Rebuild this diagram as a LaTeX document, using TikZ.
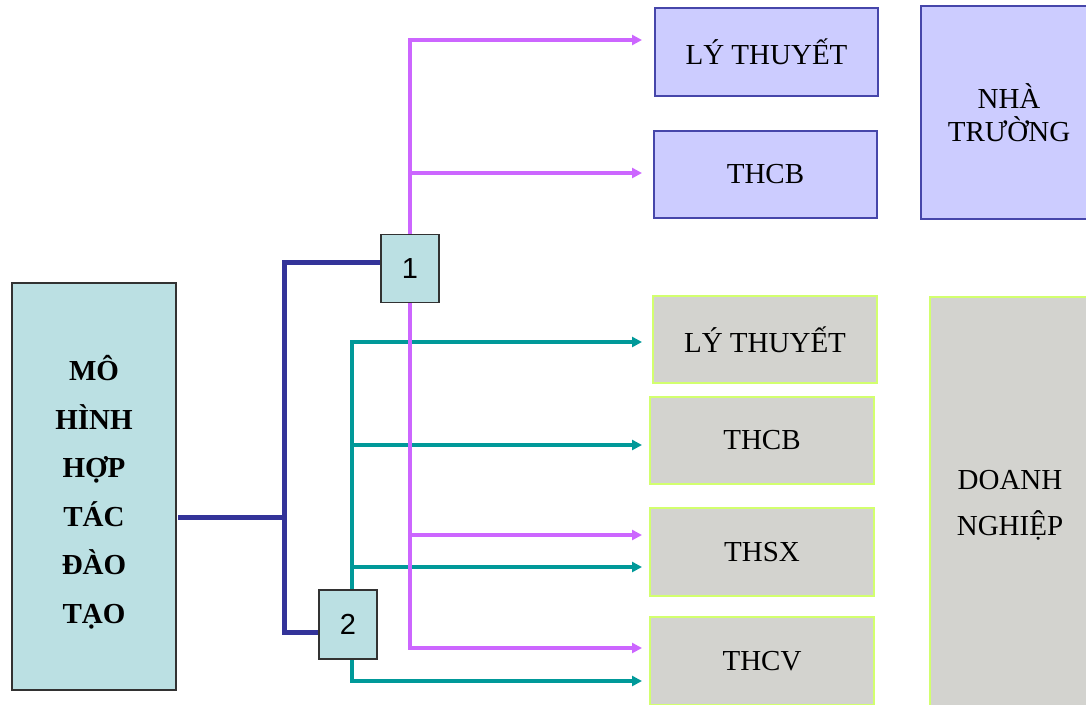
\documentclass[tikz,border=0pt]{standalone}
\usepackage{fontspec}
\setmainfont{Liberation Serif}
\newfontfamily\numfont{Liberation Sans}
\usetikzlibrary{arrows.meta,backgrounds}
\definecolor{cyanfill}{RGB}{187,224,227}
\definecolor{darkedge}{RGB}{50,50,50}
\definecolor{navyline}{RGB}{51,51,153}
\definecolor{violetline}{RGB}{204,102,255}
\definecolor{tealline}{RGB}{0,153,153}
\definecolor{lavfill}{RGB}{204,204,255}
\definecolor{lavedge}{RGB}{70,70,170}
\definecolor{greyfill}{RGB}{211,211,207}
\definecolor{limeedge}{RGB}{210,255,110}
\begin{document}
\begin{tikzpicture}[x=1pt,y=-1pt,
  every node/.style={inner sep=0pt,outer sep=0pt},
  boxtext/.style={font=\fontsize{29}{33}\selectfont,align=center},
  mainbox/.style={rectangle,draw=darkedge,line width=1.4pt,fill=cyanfill},
  schoolbox/.style={rectangle,draw=lavedge,line width=1.2pt,fill=lavfill,boxtext},
  firmbox/.style={rectangle,draw=limeedge,line width=1.4pt,fill=greyfill,boxtext},
  numbox/.style={rectangle,draw=darkedge,line width=1.2pt,fill=cyanfill,
    minimum width=58pt,minimum height=68pt,font=\numfont\fontsize{29}{29}\selectfont},
  navy/.style={draw=navyline,line width=5pt},
  violetarrow/.style={draw=violetline,line width=4pt,-{Triangle[length=10pt,width=10pt]}},
  violetplain/.style={draw=violetline,line width=4pt},
  tealarrow/.style={draw=tealline,line width=3.3pt,-{Triangle[length=10pt,width=10pt]}},
  tealplain/.style={draw=tealline,line width=3.3pt}]
\useasboundingbox (0,0) rectangle (1086,704);

% left block
\node[mainbox,minimum width=164pt,minimum height=407pt] (main) at (94,486.5) {};
\node[font=\bfseries\fontsize{29}{48.5}\selectfont,align=center] (mainlabel) at (94,492)
  {MÔ\\HÌNH\\HỢP\\TÁC\\ĐÀO\\TẠO};

% school side
\node[schoolbox,minimum width=223pt,minimum height=88pt] (lt1) at (766.5,52) {LÝ THUYẾT};
\node[schoolbox,minimum width=223pt,minimum height=87pt] (cb1) at (765.5,174.5) {THCB};
\node[schoolbox,minimum width=176pt,minimum height=213pt] (school) at (1009,112.5) {NHÀ\\TRƯỜNG};

% enterprise side
\node[firmbox,minimum width=224pt,minimum height=87pt] (lt2) at (765,339.5) {LÝ THUYẾT};
\node[firmbox,minimum width=224pt,minimum height=87pt] (cb2) at (762,440.5) {THCB};
\node[firmbox,minimum width=224pt,minimum height=88pt] (sx) at (762,552) {THSX};
\node[firmbox,minimum width=224pt,minimum height=88pt] (cv) at (762,661) {THCV};
\node[firmbox,minimum width=160pt,minimum height=416pt,
  font=\fontsize{29}{46}\selectfont] (firm) at (1010,505) {DOANH\\NGHIỆP};

% branch boxes
\node[numbox] (b1) at (410,268.5) {1};
\node[numbox,minimum height=69pt] (b2) at (348,624.5) {2};

% trunk points
\coordinate (nj) at (284,517);
\coordinate (nt) at (284,262);
\coordinate (nb) at (284,632);
\coordinate (vtop) at (410,40);
\coordinate (vcb) at (410,173);
\coordinate (vsx) at (410,535);
\coordinate (vbot) at (410,648);
\coordinate (ttop) at (352,342);
\coordinate (tcb) at (352,445);
\coordinate (tsx) at (352,567);
\coordinate (tbot) at (352,681);

\begin{pgfonlayer}{background}
  % navy feed
  \draw[navy,shorten <=2pt] (main.east |- nj) -- (nj);
  \draw[navy] (b1.west |- nt) -- (nt) -- (nb) -- (b2.west |- nb);
  % teal branch
  \draw[tealplain] (ttop) -- (tbot);
  \draw[tealarrow,shorten >=11pt] (tcb) -- (ttop) -- (lt2.west |- ttop);
  \draw[tealarrow,shorten >=8pt] (tcb) -- (cb2.west |- tcb);
  \draw[tealarrow,shorten >=8pt] (tsx) -- (sx.west |- tsx);
  \draw[tealarrow,shorten >=8pt] (tsx) -- (tbot) -- (cv.west |- tbot);
  % violet branch
  \draw[violetplain] (vtop) -- (vbot);
  \draw[violetarrow,shorten >=13pt] (vcb) -- (vtop) -- (lt1.west |- vtop);
  \draw[violetarrow,shorten >=12pt] (vcb) -- (cb1.west |- vcb);
  \draw[violetarrow,shorten >=8pt] (vsx) -- (sx.west |- vsx);
  \draw[violetarrow,shorten >=8pt] (vsx) -- (vbot) -- (cv.west |- vbot);
\end{pgfonlayer}
\end{tikzpicture}
\end{document}
